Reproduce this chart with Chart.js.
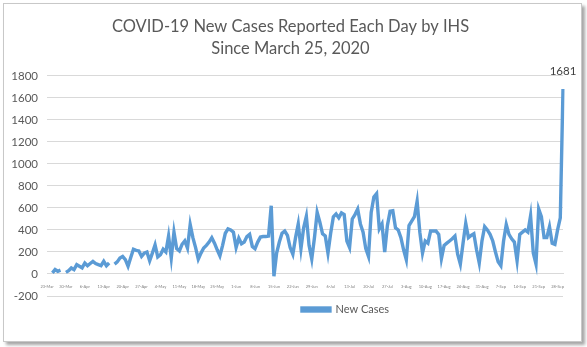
<!DOCTYPE html>
<html lang="en">
	<head>
		<meta charset="UTF-8" />
		<title>COVID-19 New Cases by IHS</title>
		<style>
			body {
				margin: 0;
				padding: 0;
				background: #fff;
			}

			#frame {
				position: absolute;
				left: 3px;
				top: 3px;
				width: 577px;
				height: 337px;
				border: 1px solid #c8c8c8;
				box-shadow: 3px 3px 3px rgba(0, 0, 0, 0.35);
				background: #fff;
			}

			canvas {
				display: block;
			}
		</style>
		<script src="https://cdn.jsdelivr.net/npm/chart.js"></script>
	</head>
	<body>
		<div id="frame"><canvas id="chart" width="577" height="337"></canvas></div>
		<script>
			// first date on the axis (Monday 23-Mar-2020), data starts 25-Mar
			const startDate = new Date(2020, 2, 23);
			const dayCount = 192;
			const monthNames = ["Jan","Feb","Mar","Apr","May","Jun","Jul","Aug","Sep","Oct","Nov","Dec"];

			const dayLabels = [];
			for (let i = 0; i < dayCount; i++) {
				const d = new Date(startDate.getFullYear(), startDate.getMonth(), startDate.getDate() + i);
				dayLabels.push(d.getDate() + "-" + monthNames[d.getMonth()]);
			}

			const newCases = [
				null, null, 10, 40, 25, 35, null, 15, 30, 55,
				40, 85, 70, 55, 100, 75, 95, 115, 95, 85,
				75, 115, 75, 100, null, 90, 110, 145, 160, 130,
				70, 150, 225, 215, 210, 160, 190, 200, 120, 190,
				265, 155, 175, 225, 200, 345, 145, 380, 230, 210,
				270, 300, 235, 450, 330, 240, 135, 190, 236, 260,
				290, 330, 280, 220, 165, 260, 370, 410, 400, 380,
				240, 325, 275, 290, 340, 360, 250, 230, 290, 335,
				340, 340, 345, 620, -20, 190, 290, 370, 390, 350,
				240, 180, 330, 455, 230, 420, 525, 260, 135, 330,
				560, 470, 365, 345, 190, 370, 520, 545, 510, 555,
				540, 300, 240, 500, 540, 590, 455, 380, 230, 160,
				560, 700, 730, 410, 455, 200, 440, 570, 575, 420,
				400, 330, 220, 130, 440, 480, 520, 660, 380, 190,
				300, 280, 390, 390, 390, 360, 140, 260, 280, 300,
				320, 345, 180, 90, 280, 460, 330, 350, 365, 220,
				100, 300, 430, 400, 360, 300, 200, 110, 75, 300,
				450, 360, 320, 290, 120, 360, 380, 400, 380, 530,
				190, 90, 590, 520, 330, 330, 430, 280, 270, 400,
				510, 1681,
			];

			const titleLines = ["COVID-19 New Cases Reported Each Day by IHS", "Since March 25, 2020"];
			const yMin = -200;
			const yMax = 1800;
			const yStep = 200;

			const fontFamily = "Lato, 'Open Sans', sans-serif";
			const textColor = "#595959";
			const gridColor = "#d9d9d9";
			const lineColor = "#5b9bd5";

			// Excel centres the title on the whole chart and puts the legend right of centre
			const boxShift = {
				id: "boxShift",
				afterLayout(chart) {
					chart.titleBlock.left += 7;
					chart.titleBlock.right += 7;
					chart.legend.left += 62;
					chart.legend.right += 62;
				},
			};

			// value label over the last point
			const lastLabel = {
				id: "lastLabel",
				afterDatasetsDraw(chart) {
					const meta = chart.getDatasetMeta(0);
					const pt = meta.data[meta.data.length - 1];
					const ctx = chart.ctx;
					ctx.save();
					ctx.font = "11.5px " + fontFamily;
					ctx.fillStyle = "#404040";
					ctx.textAlign = "center";
					ctx.textBaseline = "bottom";
					ctx.fillText(String(newCases[newCases.length - 1]), pt.x, pt.y - 12);
					ctx.restore();
				},
			};

			new Chart(document.getElementById("chart").getContext("2d"), {
				type: "line",
				data: {
					labels: dayLabels,
					datasets: [
						{
							label: "New Cases",
							data: newCases,
							borderColor: lineColor,
							backgroundColor: lineColor,
							borderWidth: 3.4,
							pointRadius: 0,
							tension: 0,
						},
					],
				},
				options: {
					responsive: false,
					animation: false,
					layout: {
						padding: { left: 0, right: 18, bottom: 16 },
					},
					scales: {
						x: {
							position: { y: 0 },
							offset: false,
							grid: { display: false },
							border: { color: gridColor },
							ticks: {
								autoSkip: false,
								maxRotation: 0,
								minRotation: 0,
								padding: 2,
								color: "#7f7f7f",
								font: { size: 4, family: fontFamily },
								callback: (v, i) => (i % 7 === 0 ? dayLabels[i] : null),
							},
						},
						y: {
							min: yMin,
							max: yMax,
							afterFit: (scale) => {
								scale.width = 43;
							},
							grid: { color: gridColor, drawTicks: false },
							border: { display: false },
							ticks: {
								stepSize: yStep,
								padding: 9,
								color: textColor,
								font: { size: 11.5, family: fontFamily },
								callback: (v) => String(v),
							},
						},
					},
					plugins: {
						title: {
							display: true,
							text: titleLines,
							color: textColor,
							font: { size: 16.5, weight: "normal", family: fontFamily, lineHeight: 1.33 },
							padding: { top: 12, bottom: 16 },
						},
						legend: {
							position: "bottom",
							labels: {
								boxWidth: 28,
								boxHeight: 3,
								padding: 8,
								color: textColor,
								font: { size: 11, family: fontFamily },
							},
						},
						tooltip: { enabled: false },
					},
				},
				plugins: [boxShift, lastLabel],
			});
		</script>
	</body>
</html>
